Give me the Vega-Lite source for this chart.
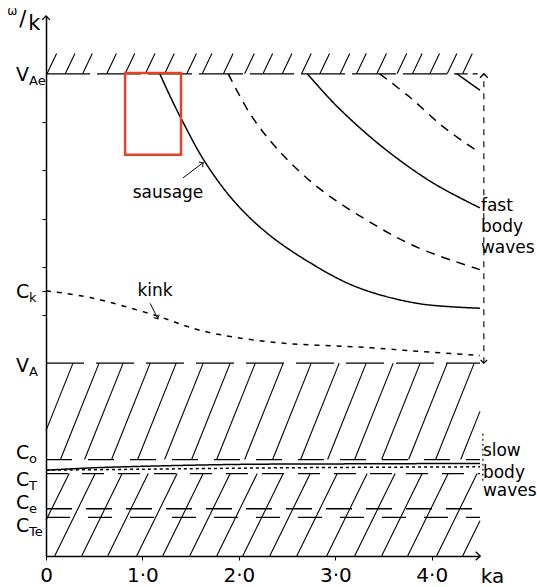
{
  "$schema": "https://vega.github.io/schema/vega-lite/v6.json",
  "width": 434,
  "height": 540,
  "autosize": {"type": "none"},
  "padding": {"left": 46, "top": 16, "right": 57, "bottom": 31},
  "background": "white",
  "config": {"view": {"stroke": null}, "font": "DejaVu Sans"},
  "resolve": {"scale": {"strokeDash": "independent"}},
  "datasets": {
    "hlines": [
      {"x": 0, "x2": 4.32, "y": 5.0, "style": "vae"},
      {"x": 4.32, "x2": 4.5, "y": 5.0, "style": "short"},
      {"x": 0, "x2": 4.5, "y": 2.0, "style": "va"},
      {"x": 0, "x2": 4.5, "y": 1.0, "style": "c0"},
      {"x": 0, "x2": 4.5, "y": 0.855, "style": "ctop"},
      {"x": 0, "x2": 4.5, "y": 0.49, "style": "ce"},
      {"x": 0, "x2": 4.5, "y": 0.40, "style": "cte"}
    ],
    "vlines": [
      {"x": 4.54, "y": 2.0, "y2": 5.0, "style": "arrow"},
      {"x": 4.53, "y": 0.78, "y2": 1.28, "style": "dots"}
    ],
    "hatch": [
      {"x": 0.01, "y": 5.0, "x2": 0.11, "y2": 5.21},
      {"x": 0.20, "y": 5.0, "x2": 0.30, "y2": 5.21},
      {"x": 0.38, "y": 5.0, "x2": 0.48, "y2": 5.21},
      {"x": 0.63, "y": 5.0, "x2": 0.73, "y2": 5.21},
      {"x": 0.82, "y": 5.0, "x2": 0.92, "y2": 5.21},
      {"x": 1.03, "y": 5.0, "x2": 1.13, "y2": 5.21},
      {"x": 1.23, "y": 5.0, "x2": 1.33, "y2": 5.21},
      {"x": 1.46, "y": 5.0, "x2": 1.56, "y2": 5.21},
      {"x": 1.62, "y": 5.0, "x2": 1.72, "y2": 5.21},
      {"x": 1.84, "y": 5.0, "x2": 1.94, "y2": 5.21},
      {"x": 2.06, "y": 5.0, "x2": 2.16, "y2": 5.21},
      {"x": 2.25, "y": 5.0, "x2": 2.35, "y2": 5.21},
      {"x": 2.45, "y": 5.0, "x2": 2.55, "y2": 5.21},
      {"x": 2.65, "y": 5.0, "x2": 2.75, "y2": 5.21},
      {"x": 2.84, "y": 5.0, "x2": 2.94, "y2": 5.21},
      {"x": 3.05, "y": 5.0, "x2": 3.15, "y2": 5.21},
      {"x": 3.22, "y": 5.0, "x2": 3.32, "y2": 5.21},
      {"x": 3.43, "y": 5.0, "x2": 3.53, "y2": 5.21},
      {"x": 3.64, "y": 5.0, "x2": 3.74, "y2": 5.21},
      {"x": 3.80, "y": 5.0, "x2": 3.90, "y2": 5.21},
      {"x": 3.98, "y": 5.0, "x2": 4.08, "y2": 5.21},
      {"x": 4.16, "y": 5.0, "x2": 4.26, "y2": 5.21},
      {"x": 4.32, "y": 5.0, "x2": 4.42, "y2": 5.21},

      {"x": 0.0, "y": 1.30, "x2": 0.28, "y2": 2.0},
      {"x": 0.15, "y": 1.0, "x2": 0.55, "y2": 2.0},
      {"x": 0.40, "y": 1.0, "x2": 0.80, "y2": 2.0},
      {"x": 0.68, "y": 1.0, "x2": 1.08, "y2": 2.0},
      {"x": 0.95, "y": 1.0, "x2": 1.35, "y2": 2.0},
      {"x": 1.23, "y": 1.0, "x2": 1.63, "y2": 2.0},
      {"x": 1.51, "y": 1.0, "x2": 1.91, "y2": 2.0},
      {"x": 1.77, "y": 1.0, "x2": 2.17, "y2": 2.0},
      {"x": 2.06, "y": 1.0, "x2": 2.46, "y2": 2.0},
      {"x": 2.35, "y": 1.0, "x2": 2.75, "y2": 2.0},
      {"x": 2.64, "y": 1.0, "x2": 3.04, "y2": 2.0},
      {"x": 2.92, "y": 1.0, "x2": 3.32, "y2": 2.0},
      {"x": 3.20, "y": 1.0, "x2": 3.60, "y2": 2.0},
      {"x": 3.48, "y": 1.0, "x2": 3.88, "y2": 2.0},
      {"x": 3.76, "y": 1.0, "x2": 4.16, "y2": 2.0},
      {"x": 4.04, "y": 1.0, "x2": 4.44, "y2": 2.0},
      {"x": 4.30, "y": 1.0, "x2": 4.50, "y2": 1.5},

      {"x": 0.0, "y": 0.37, "x2": 0.24, "y2": 0.855},
      {"x": 0.09, "y": 0.0, "x2": 0.51, "y2": 0.855},
      {"x": 0.37, "y": 0.0, "x2": 0.79, "y2": 0.855},
      {"x": 0.64, "y": 0.0, "x2": 1.06, "y2": 0.855},
      {"x": 0.94, "y": 0.0, "x2": 1.36, "y2": 0.855},
      {"x": 1.21, "y": 0.0, "x2": 1.63, "y2": 0.855},
      {"x": 1.49, "y": 0.0, "x2": 1.91, "y2": 0.855},
      {"x": 1.77, "y": 0.0, "x2": 2.19, "y2": 0.855},
      {"x": 2.04, "y": 0.0, "x2": 2.46, "y2": 0.855},
      {"x": 2.32, "y": 0.0, "x2": 2.74, "y2": 0.855},
      {"x": 2.60, "y": 0.0, "x2": 3.02, "y2": 0.855},
      {"x": 2.91, "y": 0.0, "x2": 3.33, "y2": 0.855},
      {"x": 3.20, "y": 0.0, "x2": 3.62, "y2": 0.855},
      {"x": 3.48, "y": 0.0, "x2": 3.90, "y2": 0.855},
      {"x": 3.75, "y": 0.0, "x2": 4.17, "y2": 0.855},
      {"x": 4.05, "y": 0.0, "x2": 4.47, "y2": 0.855},
      {"x": 4.32, "y": 0.0, "x2": 4.50, "y2": 0.366}
    ],
    "curves": [
      {"series": "s1", "style": "solid", "ka": 1.18, "v": 5.0},
      {"series": "s1", "style": "solid", "ka": 1.30, "v": 4.74},
      {"series": "s1", "style": "solid", "ka": 1.42, "v": 4.50},
      {"series": "s1", "style": "solid", "ka": 1.64, "v": 4.10},
      {"series": "s1", "style": "solid", "ka": 1.94, "v": 3.69},
      {"series": "s1", "style": "solid", "ka": 2.29, "v": 3.35},
      {"series": "s1", "style": "solid", "ka": 2.74, "v": 3.04},
      {"series": "s1", "style": "solid", "ka": 3.22, "v": 2.79},
      {"series": "s1", "style": "solid", "ka": 3.85, "v": 2.62},
      {"series": "s1", "style": "solid", "ka": 4.50, "v": 2.57},
      {"series": "d1", "style": "dash", "ka": 1.89, "v": 5.0},
      {"series": "d1", "style": "dash", "ka": 2.12, "v": 4.58},
      {"series": "d1", "style": "dash", "ka": 2.40, "v": 4.22},
      {"series": "d1", "style": "dash", "ka": 2.81, "v": 3.83},
      {"series": "d1", "style": "dash", "ka": 3.33, "v": 3.48},
      {"series": "d1", "style": "dash", "ka": 3.85, "v": 3.20},
      {"series": "d1", "style": "dash", "ka": 4.50, "v": 2.97},
      {"series": "s2", "style": "solid", "ka": 2.71, "v": 5.0},
      {"series": "s2", "style": "solid", "ka": 3.02, "v": 4.66},
      {"series": "s2", "style": "solid", "ka": 3.49, "v": 4.24},
      {"series": "s2", "style": "solid", "ka": 4.01, "v": 3.87},
      {"series": "s2", "style": "solid", "ka": 4.50, "v": 3.61},
      {"series": "d2", "style": "dash", "ka": 3.46, "v": 5.0},
      {"series": "d2", "style": "dash", "ka": 3.77, "v": 4.76},
      {"series": "d2", "style": "dash", "ka": 4.12, "v": 4.45},
      {"series": "d2", "style": "dash", "ka": 4.50, "v": 4.18},
      {"series": "s3", "style": "solid", "ka": 4.26, "v": 5.0},
      {"series": "s3", "style": "solid", "ka": 4.50, "v": 4.83},
      {"series": "k", "style": "kink", "ka": 0.0, "v": 2.75},
      {"series": "k", "style": "kink", "ka": 0.46, "v": 2.68},
      {"series": "k", "style": "kink", "ka": 1.15, "v": 2.49},
      {"series": "k", "style": "kink", "ka": 1.60, "v": 2.34},
      {"series": "k", "style": "kink", "ka": 2.32, "v": 2.22},
      {"series": "k", "style": "kink", "ka": 3.36, "v": 2.16},
      {"series": "k", "style": "kink", "ka": 3.90, "v": 2.12},
      {"series": "k", "style": "kink", "ka": 4.50, "v": 2.08},
      {"series": "ct", "style": "solid", "ka": 0.0, "v": 0.89},
      {"series": "ct", "style": "solid", "ka": 0.5, "v": 0.915},
      {"series": "ct", "style": "solid", "ka": 1.0, "v": 0.93},
      {"series": "ct", "style": "solid", "ka": 2.0, "v": 0.95},
      {"series": "ct", "style": "solid", "ka": 3.0, "v": 0.955},
      {"series": "ct", "style": "solid", "ka": 4.5, "v": 0.96},
      {"series": "ctd", "style": "dot", "ka": 0.0, "v": 0.89},
      {"series": "ctd", "style": "dot", "ka": 1.0, "v": 0.90},
      {"series": "ctd", "style": "dot", "ka": 2.5, "v": 0.915},
      {"series": "ctd", "style": "dot", "ka": 4.5, "v": 0.925}
    ],
    "pointers": [
      {"x": 1.42, "y": 3.92, "x2": 1.63, "y2": 4.08},
      {"x": 1.08, "y": 2.62, "x2": 1.16, "y2": 2.46}
    ],
    "levels": [
      {"main": "V", "sub": "Ae", "y": 4.99},
      {"main": "C", "sub": "k", "y": 2.74},
      {"main": "V", "sub": "A", "y": 1.97},
      {"main": "C", "sub": "o", "y": 1.07},
      {"main": "C", "sub": "T", "y": 0.79},
      {"main": "C", "sub": "e", "y": 0.55},
      {"main": "C", "sub": "Te", "y": 0.31}
    ],
    "annot": [
      {"text": "sausage", "x": 1.265, "y": 3.76},
      {"text": "kink", "x": 1.13, "y": 2.75}
    ],
    "side": [
      {"text": "fast", "x": 4.51, "y": 3.63},
      {"text": "body", "x": 4.51, "y": 3.41},
      {"text": "waves", "x": 4.51, "y": 3.19},
      {"text": "slow", "x": 4.53, "y": 1.09},
      {"text": "body", "x": 4.53, "y": 0.86},
      {"text": "waves", "x": 4.53, "y": 0.67}
    ],
    "highlight": [
      {"x": 0.82, "x2": 1.40, "y": 5.01, "y2": 4.16}
    ]
  },
  "layer": [
    {
      "data": {"name": "hlines"},
      "mark": {"type": "rule", "color": "black", "strokeWidth": 1.3},
      "encoding": {
        "x": {"field": "x", "type": "quantitative",
          "scale": {"domain": [0, 4.5], "nice": false, "zero": false},
          "axis": {"title": null, "values": [0, 1, 2, 3, 4],
            "labelExpr": "datum.value == 0 ? '0' : replace(format(datum.value, '.1f'), '.', '·')",
            "labelFontSize": 20, "labelColor": "black", "labelFont": "DejaVu Sans",
            "domainColor": "black", "domainWidth": 1.5, "tickColor": "black", "tickSize": 4,
            "labelPadding": 5, "grid": false, "labelFlush": false}},
        "x2": {"field": "x2"},
        "y": {"field": "y", "type": "quantitative",
          "scale": {"domain": [0, 5.6], "nice": false, "zero": false},
          "axis": {"title": null, "values": [2.5, 2.75, 3, 3.5, 4, 4.5], "labels": false,
            "domainColor": "black", "domainWidth": 1.5, "tickColor": "black", "tickSize": 4, "grid": false}},
        "strokeDash": {"field": "style", "type": "nominal", "legend": null,
          "scale": {"domain": ["vae", "short", "va", "c0", "ctop", "ce", "cte"],
            "range": [[44, 7], [5, 5], [38, 12], [26, 16], [22, 14], [26, 14], [24, 18]]}}
      }
    },
    {
      "data": {"name": "vlines"},
      "mark": {"type": "rule", "color": "black", "strokeWidth": 1.1},
      "encoding": {
        "x": {"field": "x", "type": "quantitative"},
        "y": {"field": "y", "type": "quantitative"},
        "y2": {"field": "y2"},
        "strokeDash": {"field": "style", "type": "nominal", "legend": null,
          "scale": {"domain": ["arrow", "dots"], "range": [[6, 6], [2, 3]]}}
      }
    },
    {
      "data": {"name": "hatch"},
      "mark": {"type": "rule", "color": "black", "strokeWidth": 1.1},
      "encoding": {
        "x": {"field": "x", "type": "quantitative"},
        "y": {"field": "y", "type": "quantitative"},
        "x2": {"field": "x2"},
        "y2": {"field": "y2"}
      }
    },
    {
      "data": {"name": "curves"},
      "mark": {"type": "line", "color": "black", "strokeWidth": 1.5, "interpolate": "catmull-rom"},
      "encoding": {
        "x": {"field": "ka", "type": "quantitative"},
        "y": {"field": "v", "type": "quantitative"},
        "detail": {"field": "series"},
        "strokeDash": {"field": "style", "type": "nominal", "legend": null,
          "scale": {"domain": ["solid", "dash", "kink", "dot"], "range": [[1, 0], [9, 7], [5, 6], [3, 3]]}}
      }
    },
    {
      "data": {"name": "pointers"},
      "mark": {"type": "rule", "color": "black", "strokeWidth": 1},
      "encoding": {
        "x": {"field": "x", "type": "quantitative"},
        "y": {"field": "y", "type": "quantitative"},
        "x2": {"field": "x2"},
        "y2": {"field": "y2"}
      }
    },
    {
      "data": {"name": "highlight"},
      "mark": {"type": "rect", "filled": false, "stroke": "#e0452b", "strokeWidth": 2.5},
      "encoding": {
        "x": {"field": "x", "type": "quantitative"},
        "x2": {"field": "x2"},
        "y": {"field": "y", "type": "quantitative"},
        "y2": {"field": "y2"}
      }
    },
    {
      "data": {"values": [{"x": 0, "y": 5.6}, {"x": 4.54, "y": 5.0}]},
      "mark": {"type": "point", "shape": "M-1,1L0,0L1,1", "filled": false, "color": "black", "strokeWidth": 1.4, "size": 60, "opacity": 1},
      "encoding": {"x": {"field": "x", "type": "quantitative"}, "y": {"field": "y", "type": "quantitative"}}
    },
    {
      "data": {"values": [{"x": 4.5, "y": 0}]},
      "mark": {"type": "point", "shape": "M-1,1L0,0L1,1", "angle": 90, "filled": false, "color": "black", "strokeWidth": 1.4, "size": 70, "opacity": 1},
      "encoding": {"x": {"field": "x", "type": "quantitative"}, "y": {"field": "y", "type": "quantitative"}}
    },
    {
      "data": {"values": [{"x": 4.54, "y": 2.0}]},
      "mark": {"type": "point", "shape": "M-1,1L0,0L1,1", "angle": 180, "filled": false, "color": "black", "strokeWidth": 1.2, "size": 40, "opacity": 1},
      "encoding": {"x": {"field": "x", "type": "quantitative"}, "y": {"field": "y", "type": "quantitative"}}
    },
    {
      "data": {"values": [{"x": 1.63, "y": 4.08}]},
      "mark": {"type": "point", "shape": "M-1,1L0,0L1,1", "angle": 53, "filled": false, "color": "black", "strokeWidth": 1, "size": 40, "opacity": 1},
      "encoding": {"x": {"field": "x", "type": "quantitative"}, "y": {"field": "y", "type": "quantitative"}}
    },
    {
      "data": {"values": [{"x": 1.16, "y": 2.46}]},
      "mark": {"type": "point", "shape": "M-1,1L0,0L1,1", "angle": 152, "filled": false, "color": "black", "strokeWidth": 1, "size": 40, "opacity": 1},
      "encoding": {"x": {"field": "x", "type": "quantitative"}, "y": {"field": "y", "type": "quantitative"}}
    },
    {
      "data": {"name": "levels"},
      "mark": {"type": "text", "align": "left", "baseline": "middle", "dx": -30, "fontSize": 19, "font": "DejaVu Sans", "color": "black"},
      "encoding": {"x": {"datum": 0, "type": "quantitative"}, "y": {"field": "y", "type": "quantitative"}, "text": {"field": "main"}}
    },
    {
      "data": {"name": "levels"},
      "mark": {"type": "text", "align": "left", "baseline": "middle", "dx": -17, "dy": 6, "fontSize": 13, "font": "DejaVu Sans", "color": "black"},
      "encoding": {"x": {"datum": 0, "type": "quantitative"}, "y": {"field": "y", "type": "quantitative"}, "text": {"field": "sub"}}
    },
    {
      "data": {"name": "annot"},
      "mark": {"type": "text", "align": "center", "baseline": "middle", "fontSize": 17, "font": "DejaVu Sans", "color": "black"},
      "encoding": {"x": {"field": "x", "type": "quantitative"}, "y": {"field": "y", "type": "quantitative"}, "text": {"field": "text"}}
    },
    {
      "data": {"name": "side"},
      "mark": {"type": "text", "align": "left", "baseline": "middle", "fontSize": 17, "font": "DejaVu Sans", "color": "black"},
      "encoding": {"x": {"field": "x", "type": "quantitative"}, "y": {"field": "y", "type": "quantitative"}, "text": {"field": "text"}}
    },
    {
      "data": {"values": [{"text": "ka", "x": 4.63, "y": -0.22}]},
      "mark": {"type": "text", "align": "center", "baseline": "middle", "fontSize": 20, "font": "DejaVu Sans", "color": "black"},
      "encoding": {"x": {"field": "x", "type": "quantitative"}, "y": {"field": "y", "type": "quantitative"}, "text": {"field": "text"}}
    },
    {
      "data": {"values": [{"text": "ω", "x": -0.35, "y": 5.65}]},
      "mark": {"type": "text", "align": "center", "baseline": "middle", "fontSize": 12, "font": "DejaVu Sans", "color": "black"},
      "encoding": {"x": {"field": "x", "type": "quantitative"}, "y": {"field": "y", "type": "quantitative"}, "text": {"field": "text"}}
    },
    {
      "data": {"values": [{"text": "/", "x": -0.24, "y": 5.56}, {"text": "k", "x": -0.12, "y": 5.52}]},
      "mark": {"type": "text", "align": "center", "baseline": "middle", "fontSize": 21, "font": "DejaVu Sans", "color": "black"},
      "encoding": {"x": {"field": "x", "type": "quantitative"}, "y": {"field": "y", "type": "quantitative"}, "text": {"field": "text"}}
    }
  ]
}
